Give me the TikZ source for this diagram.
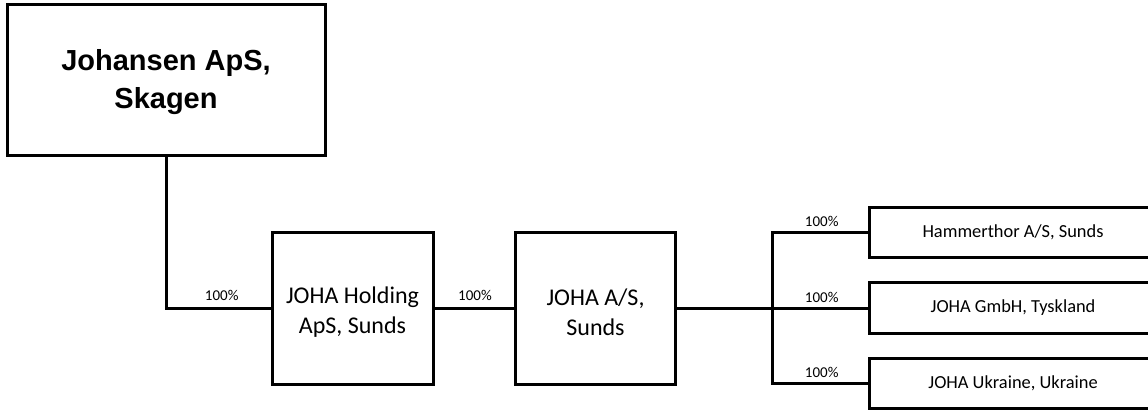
\documentclass[tikz,border=0pt]{standalone}
\usepackage{fontspec}
\newfontfamily\arialf{Liberation Sans}
\newfontfamily\calf{Carlito}
\newcommand{\upstrut}[1]{\rule{0pt}{#1}}
\begin{document}
\begin{tikzpicture}[x=1pt,y=-1pt,
  box/.style={draw=black,line width=3pt,inner sep=0pt,outer sep=0pt,align=center},
  conn/.style={draw=black,line width=3pt},
  pct/.style={inner sep=0pt,font=\calf\fontsize{15}{18}\selectfont}]
\useasboundingbox (0,0) rectangle (1148,410);
\node[box,minimum width=318pt,minimum height=151pt,font=\arialf\bfseries\fontsize{29}{38}\selectfont] (top) at (166,79.5) {\upstrut{27pt}Johansen ApS,\\Skagen};
\node[box,minimum width=161pt,minimum height=152pt,font=\calf\fontsize{24}{29.5}\selectfont] (b2) at (352.5,308) {\upstrut{25pt}JOHA Holding\\ApS, Sunds};
\node[box,minimum width=160pt,minimum height=152pt,font=\calf\fontsize{24}{29.5}\selectfont] (b3) at (595.5,308) {\upstrut{25pt}JOHA A/S,\\Sunds};
\node[box,minimum width=288pt,minimum height=50pt,font=\calf\fontsize{18.4}{22}\selectfont] (b4) at (1013,232) {Hammerthor A/S, Sunds};
\node[box,minimum width=288pt,minimum height=51pt,font=\calf\fontsize{18.4}{22}\selectfont] (b5) at (1013,308) {JOHA GmbH, Tyskland};
\node[box,minimum width=288pt,minimum height=50pt,font=\calf\fontsize{18.4}{22}\selectfont] (b6) at (1013,383) {JOHA Ukraine, Ukraine};
\coordinate (bx) at (772,0);
\draw[conn] (top.south) |- (b2.west);
\draw[conn] (b2.east) -- (b3.west);
\draw[conn] (b3.east) -- (b5.west);
\draw[conn] (b4.west) -- (b4.west -| bx) |- (b6.west);
\node[pct] (p1) at (221.7,295.5) {100\%};
\node[pct] (p2) at (475,295.5) {100\%};
\node[pct] (p3) at (821.7,221.5) {100\%};
\node[pct] (p4) at (821.7,297) {100\%};
\node[pct] (p5) at (821.7,372.5) {100\%};
\end{tikzpicture}
\end{document}
